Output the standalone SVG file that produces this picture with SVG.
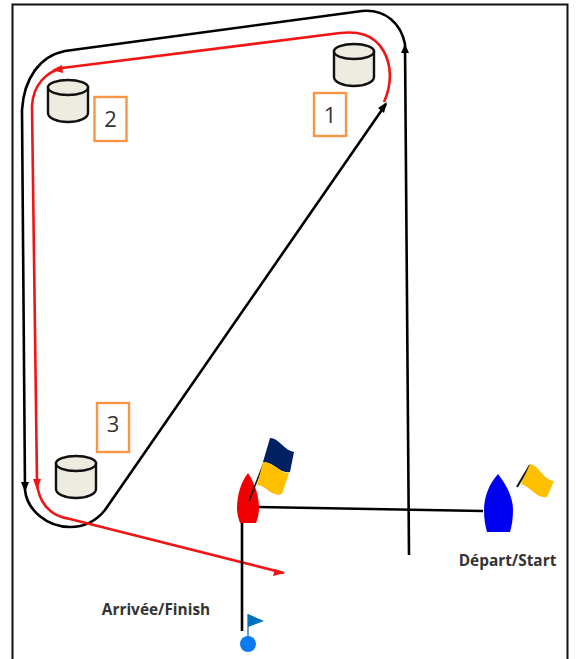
<svg xmlns="http://www.w3.org/2000/svg" width="576" height="659" viewBox="0 0 576 659">
<style>
.blk{fill:none;stroke:#000;stroke-width:2.6}
.red{fill:none;stroke:#f01616;stroke-width:2.6}
.lbl{font-family:"Open Sans","Liberation Sans",sans-serif;font-size:22px;fill:#333;text-anchor:middle}
.cap{font-family:"Open Sans","Liberation Sans",sans-serif;font-size:15.400px;font-weight:700;fill:#333;text-anchor:middle}
.box{fill:#fff;stroke:#f79646;stroke-width:2.400}
.can{fill:#eeece1;stroke:#111;stroke-width:2.4}
</style>
<defs>
<g id="can"><path class="can" d="M0 7V33C0 38 9 42 20 42S40 38 40 33V7Z"/><ellipse class="can" cx="20" cy="7.500" rx="20" ry="7.500"/></g>
</defs>
<rect id="frame" x="12.500" y="4.500" width="555" height="670" fill="#fff" stroke="#111" stroke-width="2"/>
<g id="connectors">
<path class="blk" d="M409 555L405 44C401 24 386 9 362 11L65 51C40 56 24 78 22 110L25 490C27 510 47 527 70 527C85 527 97 520 105 510L386 104"/>
<path class="red" d="M384 102C392 84 392 65 383 50C373 34 358 31 340 33L62 68C47 72 33 84 32 106L37 482C38 500 48 516 70 519L284 573"/>
<path class="blk" d="M258 507L483 511"/>
<path class="blk" d="M242 522V631"/>
<path d="M387 102L378 108L384 113Z" fill="#000"/>
<path d="M405 44L401 53H409Z" fill="#000"/>
<path d="M25 492L21 482H29Z" fill="#000"/>
<path d="M37 490L33 479H41Z" fill="#f01616"/>
<path d="M52 70L62 65L63 73Z" fill="#f01616"/>
<path d="M285 573L275 569L273 576Z" fill="#f01616"/>
</g>
<g id="mark1"><use href="#can" x="334" y="44"/></g>
<g id="mark2"><use href="#can" x="48" y="80"/></g>
<g id="mark3"><use href="#can" x="56" y="456"/></g>
<g id="label1"><rect class="box" x="314" y="93" width="32" height="43"/><text class="lbl" x="330" y="123">1</text></g>
<g id="label2"><rect class="box" x="94.500" y="97" width="32" height="44"/><text class="lbl" x="110.500" y="127">2</text></g>
<g id="label3"><rect class="box" x="97" y="403" width="32" height="49"/><text class="lbl" x="113" y="432">3</text></g>
<g id="finish-boat">
<path d="M248 473C241 482 237 495 237 508C237 513 238 518 240 523H256C258 518 259 513 259 508C259 495 254 482 248 473Z" fill="#f00000"/>
<path d="M249 501L265 460" stroke="#111" stroke-width="1.500"/>
<path d="M270 438C279 438 285 451 294 452L290 472C280 474 274 462 263 462Z" fill="#002060"/>
<path d="M263 462C274 462 280 474 289 473L282 494C272 498 266 485 257 485Z" fill="#ffc000"/>
</g>
<g id="start-boat">
<path d="M498 474C489 484 484 497 484 510C484 518 485 525 487 532H510C512 525 513 518 513 510C513 497 506 484 498 474Z" fill="#0000f0"/>
<path d="M517 487L530 465" stroke="#111" stroke-width="2"/>
<path d="M530 464C540 466 543 480 554 481L547 497C537 499 532 488 521 484Z" fill="#ffc000"/>
</g>
<g id="finish-mark">
<path d="M248 637V614" stroke="#3d7fc4" stroke-width="1.500"/>
<path d="M248 614L264 621L248 627Z" fill="#0070c0"/>
<circle cx="248" cy="644" r="8" fill="#0a7cf0"/>
</g>
<text class="cap" x="156" y="615">Arrivée/Finish</text>
<text class="cap" x="507.500" y="566">Départ/Start</text>
</svg>
